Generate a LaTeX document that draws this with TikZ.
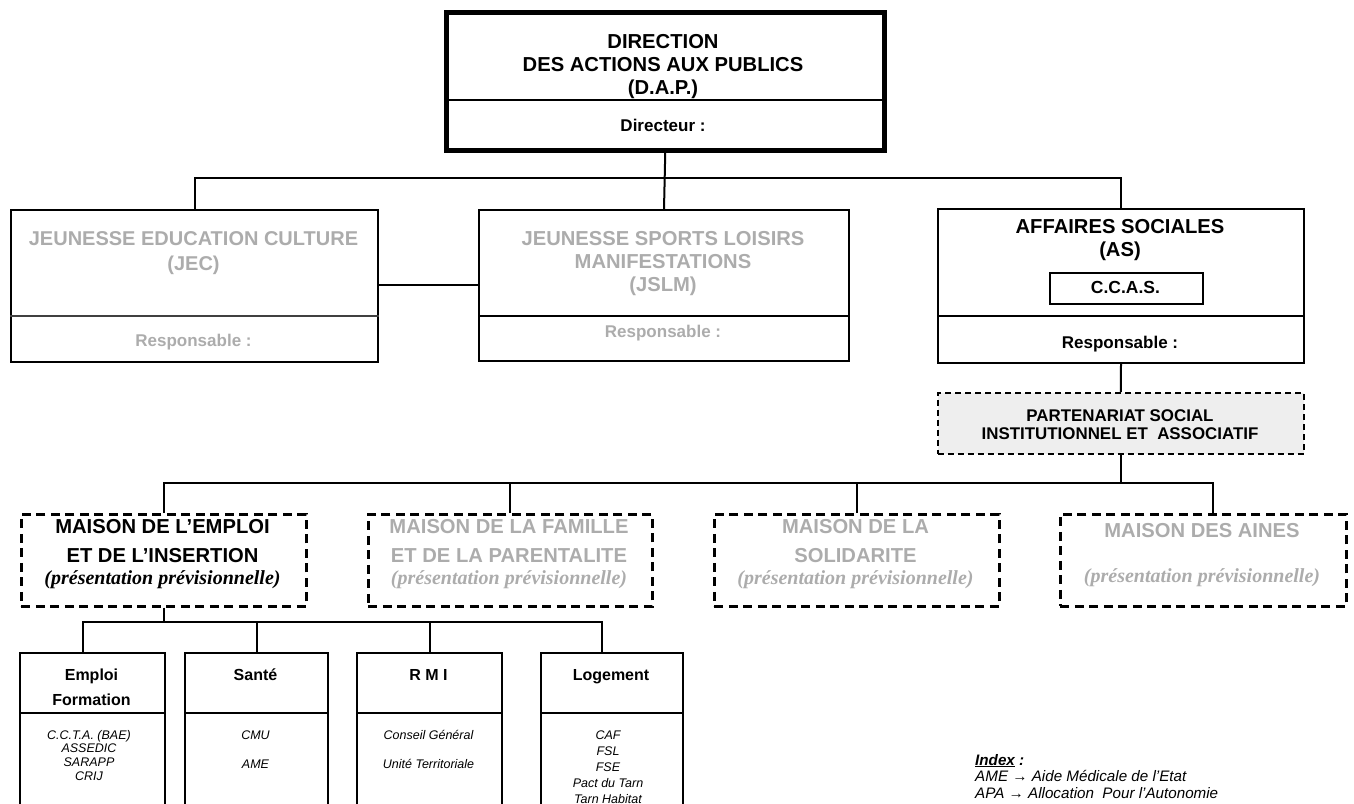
\documentclass[tikz,border=0pt]{standalone}
\usepackage{fontspec}
\setmainfont{Liberation Sans}
\newfontfamily\timesf{Liberation Serif}
\definecolor{ghost}{RGB}{172,172,172}
\definecolor{pfill}{RGB}{238,238,238}
\newcommand{\mlines}[1]{\begin{tabular}[t]{@{}c@{}}#1\end{tabular}}
\newcommand{\llines}[1]{\begin{tabular}[t]{@{}l@{}}#1\end{tabular}}
\newcommand{\fsz}[2]{\fontsize{#1}{#2}\selectfont}
\begin{document}
\begin{tikzpicture}[x=1pt,y=-1pt,
  boxs/.style={draw=black,line width=2pt,inner sep=0pt,anchor=north west},
  dashbox/.style={draw=black,line width=2.6pt,dash pattern=on 9pt off 5.5pt,inner sep=0pt,anchor=north west},
  conn/.style={draw=black,line width=2pt},
  divl/.style={draw=black,line width=1.6pt},
  tx/.style={inner sep=0pt,anchor=base},
  big/.style={tx,font=\bfseries\fsz{20.2}{23}},
  bigj/.style={tx,font=\bfseries\fsz{20}{25}},
  resp/.style={tx,font=\bfseries\fsz{17}{20}},
  partf/.style={tx,font=\bfseries\fsz{16.9}{18.5}},
  maisonf/.style={tx,font=\bfseries\fsz{20.2}{29}},
  prev/.style={tx,font=\timesf\bfseries\itshape\fsz{20}{22}},
  subf/.style={tx,font=\bfseries\fsz{16}{25}},
  lst/.style={tx,font=\itshape\fsz{12.5}{13.8}},
  gh/.style={text=ghost}]
\clip (0,0) rectangle (1354,803);
\useasboundingbox (0,0) rectangle (1354,803);

% ---- boxes
\node[boxs,line width=4.5pt,minimum width=438pt,minimum height=138pt] (dap) at (444,10) {};
\node[boxs,minimum width=367pt,minimum height=152pt] (jec) at (10,209) {};
\node[boxs,minimum width=370pt,minimum height=151pt] (jslm) at (478,209) {};
\node[boxs,minimum width=366pt,minimum height=154pt] (as) at (937,208) {};
\node[boxs,line width=1.6pt,minimum width=153pt,minimum height=31pt] (ccas) at (1049,272) {};
\node[dashbox,line width=1.6pt,dash pattern=on 6pt off 4pt,fill=pfill,minimum width=366pt,minimum height=61pt] (part) at (937,392) {};
\node[dashbox,minimum width=285pt,minimum height=92pt] (m1) at (20,513) {};
\node[dashbox,minimum width=284pt,minimum height=92pt] (m2) at (367,513) {};
\node[dashbox,minimum width=285pt,minimum height=92pt] (m3) at (713,513) {};
\node[dashbox,minimum width=286pt,minimum height=92pt] (m4) at (1059,513) {};
\node[boxs,minimum width=145pt,minimum height=180pt] (emp) at (19,652) {};
\node[boxs,minimum width=143pt,minimum height=180pt] (san) at (184,652) {};
\node[boxs,minimum width=145pt,minimum height=180pt] (rmi) at (356,652) {};
\node[boxs,minimum width=142pt,minimum height=180pt] (log) at (540,652) {};

% ---- dividers
\coordinate (d0) at (0,100);
\coordinate (d1) at (0,316);
\coordinate (d2) at (0,713);
\draw[divl,line width=1.5pt] (dap.west |- d0) -- (dap.east |- d0);
\draw[divl,line width=1.3pt,draw=black!75] (jec.west |- d1) -- (jec.east |- d1);
\draw[divl] (jslm.west |- d1) -- (jslm.east |- d1);
\draw[divl] (as.west |- d1) -- (as.east |- d1);
\draw[divl] (emp.west |- d2) -- (emp.east |- d2);
\draw[divl] (san.west |- d2) -- (san.east |- d2);
\draw[divl] (rmi.west |- d2) -- (rmi.east |- d2);
\draw[divl] (log.west |- d2) -- (log.east |- d2);

% ---- connectors
\coordinate (hA) at (0,178);
\coordinate (hB) at (0,285);
\coordinate (hC) at (0,483);
\coordinate (hD) at (0,622);
\draw[conn] (jec.north) -- (jec.north |- hA) -- (as.north |- hA) -- (as.north);
\draw[conn] (dap.south) -- (jslm.north);
\draw[conn] (jec.east |- hB) -- (jslm.west |- hB);
\draw[conn] (as.south) -- (part.north);
\draw[conn] (part.south) -- (part.south |- hC);
\coordinate (m4top) at ([xshift=10pt]m4.north);
\draw[conn] (m1.north) -- (m1.north |- hC) -- (m4top |- hC) -- (m4top);
\draw[conn] (m2.north) -- (m2.north |- hC);
\draw[conn] (m3.north) -- (m3.north |- hC);
\draw[conn] (m1.south) -- (m1.south |- hD);
\coordinate (emptop) at ([xshift=-9.5pt]emp.north);
\coordinate (logtop) at ([xshift=-10pt]log.north);
\draw[conn] (emptop) -- (emptop |- hD) -- (logtop |- hD) -- (logtop);
\draw[conn] (san.north) -- (san.north |- hD);
\draw[conn] (rmi.north) -- (rmi.north |- hD);

% ---- texts
\node[big] (dapt) at (663,48) {\mlines{DIRECTION\\DES ACTIONS AUX PUBLICS\\(D.A.P.)}};
\node[resp] (dapr) at (663,131) {Directeur :};
\node[bigj,gh] (ject) at (193.5,245) {\mlines{JEUNESSE EDUCATION CULTURE\\(JEC)}};
\node[resp,gh] (jecr) at (193.5,346) {Responsable :};
\node[big,gh] (jslmt) at (663,245) {\mlines{JEUNESSE SPORTS LOISIRS\\MANIFESTATIONS\\(JSLM)}};
\node[resp,gh] (jslmr) at (663,337) {Responsable :};
\node[big] (ast) at (1120,233) {\mlines{AFFAIRES SOCIALES\\(AS)}};
\node[resp,font=\bfseries\fsz{17.5}{20}] (ccast) at (1125.5,293) {C.C.A.S.};
\node[resp] (asr) at (1120,348) {Responsable :};
\node[partf] (partt) at (1120,421) {\mlines{PARTENARIAT SOCIAL\\INSTITUTIONNEL ET\ \ ASSOCIATIF}};

\node[maisonf] (m1t) at (162.5,533) {\mlines{MAISON DE L’EMPLOI\\ET DE L’INSERTION}};
\node[prev] (m1p) at (162.5,584) {(présentation prévisionnelle)};
\node[maisonf,gh] (m2t) at (509,533) {\mlines{MAISON DE LA FAMILLE\\ET DE LA PARENTALITE}};
\node[prev,gh] (m2p) at (509,584) {(présentation prévisionnelle)};
\node[maisonf,gh] (m3t) at (855.5,533) {\mlines{MAISON DE LA\\SOLIDARITE}};
\node[prev,gh] (m3p) at (855.5,584) {(présentation prévisionnelle)};
\node[maisonf,gh] (m4t) at (1202,537) {MAISON DES AINES};
\node[prev,gh] (m4p) at (1202,582) {(présentation prévisionnelle)};

\node[subf] (empt) at (91.5,680) {\mlines{Emploi\\Formation}};
\node[subf] (sant) at (255.5,680) {Santé};
\node[subf] (rmit) at (428.5,680) {R M I};
\node[subf] (logt) at (611,680) {Logement};

\node[lst] (empl) at (89,739) {\mlines{C.C.T.A. (BAE)\\ASSEDIC\\SARAPP\\CRIJ}};
\node[lst,font=\itshape\fsz{12.5}{14.5}] (sanl) at (255.5,739) {\mlines{CMU\\ \\AME}};
\node[lst,font=\itshape\fsz{12.5}{14.5}] (rmil) at (428.5,739) {\mlines{Conseil Général\\ \\Unité Territoriale}};
\node[lst,font=\itshape\fsz{12.5}{16.2}] (logl) at (608,739) {\mlines{CAF\\FSL\\FSE\\Pact du Tarn\\Tarn Habitat}};

\node[tx,anchor=base west,font=\itshape\fsz{15.2}{16.8}] (idx) at (975,765) {\llines{\textbf{\underline{Index}} \textbf{:}\\AME → Aide Médicale de l’Etat\\APA → Allocation\ \ Pour l’Autonomie}};
\end{tikzpicture}
\end{document}
